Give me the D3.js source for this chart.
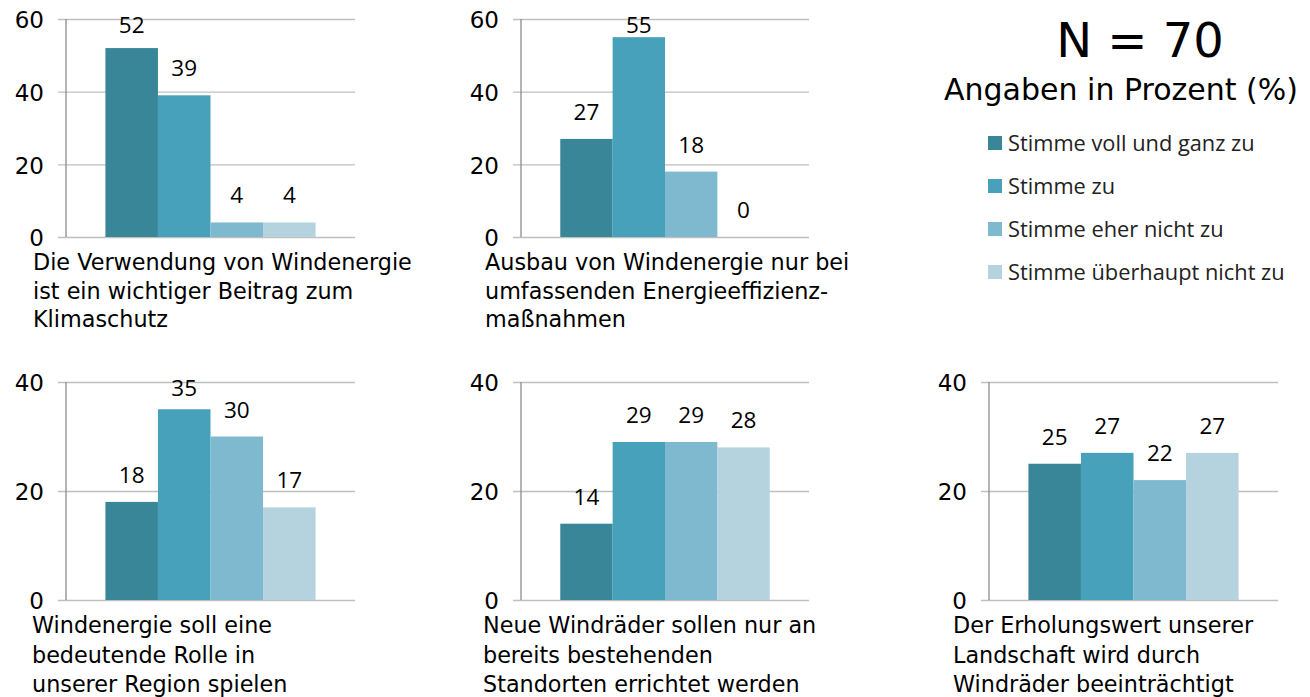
<!DOCTYPE html>
<html lang="de">
<head>
<meta charset="utf-8">
<script src="https://cdn.jsdelivr.net/npm/d3@7"></script>
<style>
  html, body { margin: 0; padding: 0; background: #ffffff; }
  svg { display: block; }
</style>
</head>
<body>
<svg id="chart" width="1310" height="697"></svg>
<script>
// Antwortkategorien (Legende)
const answers = [
  "Stimme voll und ganz zu",
  "Stimme zu",
  "Stimme eher nicht zu",
  "Stimme überhaupt nicht zu"
];

// Aussagen, zeilenweise umbrochen
const statements = [
  ["Die Verwendung von Windenergie", "ist ein wichtiger Beitrag zum", "Klimaschutz"],
  ["Ausbau von Windenergie nur bei", "umfassenden Energieeffizienz-", "maßnahmen"],
  ["Windenergie soll eine", "bedeutende Rolle in", "unserer Region spielen"],
  ["Neue Windräder sollen nur an", "bereits bestehenden", "Standorten errichtet werden"],
  ["Der Erholungswert unserer", "Landschaft wird durch", "Windräder beeinträchtigt"]
];

// Anteile in Prozent je Aussage, in der Reihenfolge der Antwortkategorien
const shares = [
  [52, 39, 4, 4],
  [27, 55, 18, 0],
  [18, 35, 30, 17],
  [14, 29, 29, 28],
  [25, 27, 22, 27]
];

// Achsenbeschriftungen
const ticksTop = [0, 20, 40, 60];
const ticksBottom = [0, 20, 40];

const sampleSize = 70;
const unitNote = "Angaben in Prozent (%)";

// ---- Darstellung ----
const colors = ["#3a8699", "#48a1ba", "#7fb9cf", "#b5d3df"];
const squareFont = "'DejaVu Sans', Verdana, sans-serif";
const plainFont = "'Open Sans', 'Noto Sans', sans-serif";

// Lage der fünf Diagrammfelder
const panels = [
  { left: 66,  right: 355,  top: 19,  bottom: 237, ticks: ticksTop,    textX: 33,  textY: 270, lineH: 28.5 },
  { left: 521, right: 809,  top: 19,  bottom: 237, ticks: ticksTop,    textX: 485, textY: 270, lineH: 28.5 },
  { left: 66,  right: 355,  top: 382, bottom: 600, ticks: ticksBottom, textX: 32,  textY: 633, lineH: 29.5 },
  { left: 521, right: 809,  top: 382, bottom: 600, ticks: ticksBottom, textX: 483, textY: 633, lineH: 29.5 },
  { left: 989, right: 1278, top: 382, bottom: 600, ticks: ticksBottom, textX: 953, textY: 633, lineH: 29.5 }
];

const svg = d3.select("#chart");

panels.forEach((p, i) => {
  const g = svg.append("g");
  const maxV = d3.max(p.ticks);

  const y = d3.scaleLinear().domain([0, maxV]).range([p.bottom, p.top]);
  const x = d3.scaleBand()
    .domain(answers)
    .range([p.left, p.right])
    .paddingInner(0)
    .paddingOuter(0.75);

  // Gitterlinien mit kurzem Teilstrich links der Achse
  const tickLen = 8;
  const yAxis = d3.axisLeft(y)
    .tickValues(p.ticks)
    .tickSize(-(p.right - p.left + tickLen))
    .tickSizeOuter(0)
    .tickFormat(d3.format("d"));

  const ax = g.append("g")
    .attr("transform", `translate(${p.left - tickLen},0)`)
    .call(yAxis);
  ax.select(".domain").remove();
  ax.selectAll(".tick line")
    .attr("stroke", "#bfbfbf")
    .attr("stroke-width", 1.3);
  ax.selectAll(".tick text")
    .attr("x", -14)
    .attr("dy", "0.38em")
    .attr("fill", "#000")
    .style("font-family", squareFont)
    .style("font-size", "23px");

  g.append("line")
    .attr("x1", p.left).attr("x2", p.left)
    .attr("y1", y(maxV)).attr("y2", y(0))
    .attr("stroke", "#8c8c8c")
    .attr("stroke-width", 1.3);

  const rows = answers.map((a, k) => ({ answer: a, value: shares[i][k], k }));

  // Balken
  g.selectAll("rect.bar")
    .data(rows)
    .join("rect")
    .attr("class", "bar")
    .attr("x", d => x(d.answer))
    .attr("width", x.bandwidth())
    .attr("y", d => y(d.value))
    .attr("height", d => y(0) - y(d.value))
    .attr("fill", d => colors[d.k]);

  // Werte über den Balken
  g.selectAll("text.val")
    .data(rows)
    .join("text")
    .attr("class", "val")
    .attr("x", d => x(d.answer) + x.bandwidth() / 2)
    .attr("y", d => Math.max(y(d.value) - 19, p.top + 14))
    .attr("text-anchor", "middle")
    .attr("fill", "#000")
    .style("font-family", plainFont)
    .style("font-size", "22.5px")
    .text(d => d.value);

  // Aussage unter dem Diagramm
  g.append("text")
    .attr("fill", "#000")
    .style("font-family", squareFont)
    .style("font-size", "22.3px")
    .selectAll("tspan")
    .data(statements[i])
    .join("tspan")
    .attr("x", p.textX)
    .attr("y", (d, j) => p.textY + j * p.lineH)
    .text(d => d);
});

// Stichprobengröße und Einheit
svg.append("text")
  .attr("x", 1140).attr("y", 57)
  .attr("text-anchor", "middle")
  .attr("fill", "#000")
  .style("font-family", squareFont)
  .style("font-size", "48px")
  .text(`N = ${sampleSize}`);

svg.append("text")
  .attr("x", 1121).attr("y", 100)
  .attr("text-anchor", "middle")
  .attr("fill", "#000")
  .style("font-family", squareFont)
  .style("font-size", "30px")
  .text(unitNote);

// Legende
const legend = svg.append("g");
const legendY = d3.scalePoint().domain(answers).range([151, 280]);

legend.selectAll("rect")
  .data(answers)
  .join("rect")
  .attr("x", 988)
  .attr("y", d => legendY(d) - 15)
  .attr("width", 14)
  .attr("height", 14)
  .attr("fill", (d, k) => colors[k]);

legend.selectAll("text")
  .data(answers)
  .join("text")
  .attr("x", 1008)
  .attr("y", d => legendY(d))
  .attr("fill", "#222")
  .style("font-family", plainFont)
  .style("font-size", "21.8px")
  .text(d => d);
</script>
</body>
</html>
